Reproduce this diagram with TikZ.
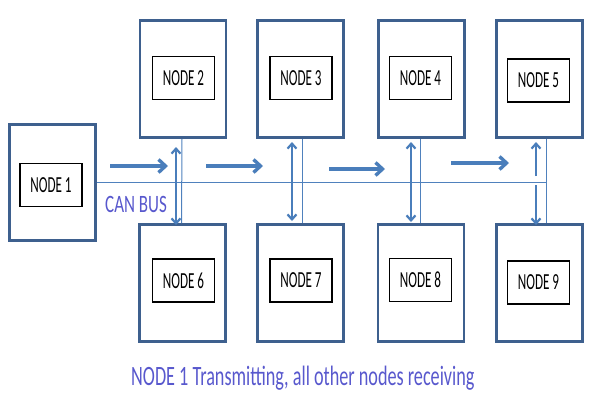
\documentclass[tikz,border=0pt]{standalone}
\usepackage{fontspec}
\setmainfont{Carlito}
\usetikzlibrary{arrows.meta}
\definecolor{boxblue}{RGB}{62,96,142}
\definecolor{arrowblue}{RGB}{74,126,187}
\definecolor{busblue}{RGB}{79,129,189}
\definecolor{textblue}{RGB}{88,88,205}
\tikzset{
  outerbox/.style={draw=boxblue, line width=2.8pt, inner sep=0pt, minimum width=86pt, minimum height=117pt},
  innerbox/.style={draw=black, line width=1.3pt, inner sep=0pt, minimum width=62pt, minimum height=43pt,
    font=\fontsize{23}{23}\selectfont},
  busline/.style={draw=busblue, line width=1pt},
  flowarrow/.style={draw=arrowblue, line width=3.4pt, -{Straight Barb[length=7pt,width=13pt]}},
  vdouble/.style={draw=arrowblue, line width=2.2pt, {Straight Barb[length=5pt,width=9pt]}-{Straight Barb[length=5pt,width=9pt]}},
  vsingle/.style={draw=arrowblue, line width=2.2pt, -{Straight Barb[length=5pt,width=9pt]}},
  bluetext/.style={text=textblue, inner sep=0pt}
}
\newcommand{\nlabel}[1]{\scalebox{0.57}[1]{#1}}
\begin{document}
\begin{tikzpicture}[x=1pt,y=-1pt]
\useasboundingbox (0,0) rectangle (598,405);
% outer boxes
\node[outerbox, minimum height=116pt] (o1) at (52.5,182.5) {};
\node[outerbox] (o2) at (183,79) {};
\node[outerbox] (o3) at (300.5,79) {};
\node[outerbox] (o4) at (421.5,79) {};
\node[outerbox] (o5) at (539.5,79) {};
\node[outerbox] (o6) at (182.5,283) {};
\node[outerbox] (o7) at (300.5,283) {};
\node[outerbox] (o8) at (421,283) {};
\node[outerbox] (o9) at (539.5,283) {};
% inner boxes
\node[innerbox] (i1) at (51,185) {\nlabel{NODE 1}};
\node[innerbox] (i2) at (183.5,78) {\nlabel{NODE 2}};
\node[innerbox] (i3) at (301,78) {\nlabel{NODE 3}};
\node[innerbox] (i4) at (420.5,78) {\nlabel{NODE 4}};
\node[innerbox] (i5) at (538.5,80.5) {\nlabel{NODE 5}};
\node[innerbox] (i6) at (183.5,280.5) {\nlabel{NODE 6}};
\node[innerbox] (i7) at (301,280.5) {\nlabel{NODE 7}};
\node[innerbox] (i8) at (420.5,280) {\nlabel{NODE 8}};
\node[innerbox] (i9) at (538.5,282.5) {\nlabel{NODE 9}};
% bus
\coordinate (busend) at (546,182.5);
\draw[busline] (o1.east) -- (busend);
\draw[busline] ([xshift=-1pt]o2.south) -- ([xshift=-1pt]o6.north);
\draw[busline] ([xshift=1.5pt]o3.south) -- ([xshift=1.5pt]o7.north);
\draw[busline] ([xshift=-1.5pt]o4.south) -- ([xshift=-1pt]o8.north);
\draw[busline] ([xshift=6.5pt]o5.south) -- ([xshift=6.5pt]o9.north);
% vertical arrows
\coordinate (a2t) at (176,147);
\coordinate (a2b) at (176,225);
\coordinate (a3t) at (292,142);
\coordinate (a3b) at (292,221);
\coordinate (a4t) at (411,142);
\coordinate (a4b) at (411,222);
\coordinate (a5s) at (536,176);
\coordinate (a5t) at (536,142);
\coordinate (a5u) at (536,185);
\coordinate (a5b) at (536,225);
\draw[vdouble] (a2t) -- (a2b);
\draw[vdouble] (a3t) -- (a3b);
\draw[vdouble] (a4t) -- (a4b);
\draw[vsingle] (a5s) -- (a5t);
\draw[vsingle] (a5u) -- (a5b);
% horizontal flow arrows
\coordinate (h1s) at (110,166);
\coordinate (h1e) at (168,166);
\coordinate (h2s) at (206,166);
\coordinate (h2e) at (263,166);
\coordinate (h3s) at (329,169);
\coordinate (h3e) at (385,169);
\coordinate (h4s) at (451,163);
\coordinate (h4e) at (509,163);
\draw[flowarrow] (h1s) -- (h1e);
\draw[flowarrow] (h2s) -- (h2e);
\draw[flowarrow] (h3s) -- (h3e);
\draw[flowarrow] (h4s) -- (h4e);
% texts
\node[bluetext, anchor=base west] (canbus) at (105,212.5)
  {\scalebox{0.68}[1]{\fontsize{25}{25}\selectfont CAN BUS}};
\node[bluetext, anchor=base west] (caption) at (131,385)
  {\scalebox{0.65}[1]{\fontsize{28}{28}\selectfont NODE 1 Transmitting, all other nodes receiving}};
\end{tikzpicture}
\end{document}
